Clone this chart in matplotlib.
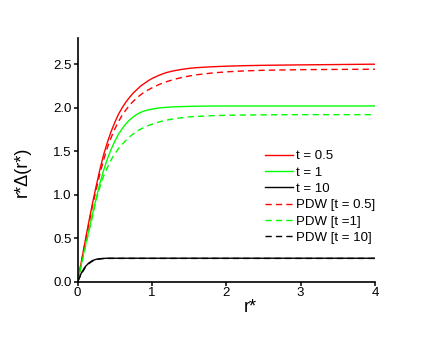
import matplotlib
matplotlib.use('Agg')
import matplotlib.pyplot as plt

plt.rcParams['font.family'] = ['Liberation Sans', 'DejaVu Sans']

# r* grid and curves
r = [0, 0.05, 0.1, 0.15, 0.2, 0.25, 0.3, 0.35, 0.4, 0.45, 0.5, 0.55, 0.6, 0.65, 0.7,
     0.75, 0.8, 0.85, 0.9, 0.95, 1.0, 1.1, 1.2, 1.3, 1.4, 1.5, 1.6, 1.8, 2.0, 2.25,
     2.5, 3.0, 3.5, 4.0]

t05 = [0, 0.23, 0.46, 0.685, 0.90, 1.10, 1.29, 1.46, 1.60, 1.725, 1.83, 1.925, 2.00,
       2.065, 2.12, 2.17, 2.21, 2.25, 2.28, 2.31, 2.335, 2.375, 2.405, 2.425, 2.44,
       2.452, 2.46, 2.47, 2.477, 2.483, 2.487, 2.492, 2.496, 2.50]
t1 = [0, 0.20, 0.40, 0.59, 0.78, 0.96, 1.13, 1.28, 1.41, 1.52, 1.615, 1.695, 1.76,
      1.815, 1.86, 1.895, 1.925, 1.947, 1.963, 1.975, 1.984, 1.997, 2.005, 2.01, 2.013,
      2.015, 2.017, 2.019, 2.02, 2.02, 2.02, 2.02, 2.02, 2.02]
t10 = [0, 0.10, 0.17, 0.215, 0.243, 0.258, 0.265, 0.268] + [0.27] * 26

pdw05 = [0, 0.22, 0.44, 0.66, 0.87, 1.06, 1.24, 1.40, 1.54, 1.655, 1.755, 1.84, 1.915,
         1.975, 2.03, 2.075, 2.115, 2.15, 2.18, 2.205, 2.228, 2.268, 2.30, 2.326, 2.347,
         2.364, 2.378, 2.398, 2.412, 2.423, 2.43, 2.437, 2.44, 2.442]
pdw1 = [0, 0.19, 0.38, 0.57, 0.75, 0.94, 1.09, 1.215, 1.31, 1.40, 1.47, 1.53, 1.58,
        1.625, 1.665, 1.70, 1.73, 1.755, 1.777, 1.795, 1.81, 1.837, 1.858, 1.873, 1.885,
        1.894, 1.90, 1.908, 1.913, 1.916, 1.918, 1.92, 1.92, 1.92]
pdw10 = [0, 0.09, 0.16, 0.208, 0.238, 0.254, 0.262, 0.266, 0.268] + [0.268] * 25

red = '#ff0000'
green = '#00ff00'
dash = (0, (4.5, 3))

fig = plt.figure(figsize=(4.36, 3.37), dpi=100)
ax = fig.add_axes([0.178, 0.164, 0.682, 0.723])

ax.plot(r, t05, color=red, lw=1, label='t = 0.5')
ax.plot(r, t1, color=green, lw=1, label='t = 1')
ax.plot(r, t10, color='black', lw=1, label='t = 10')
ax.plot(r, pdw05, color=red, lw=1, ls=dash, label='PDW [t = 0.5]')
ax.plot(r, pdw1, color=green, lw=1, ls=dash, label='PDW [t =1]')
ax.plot(r, pdw10, color='black', lw=1, ls=dash, label='PDW [t = 10]')

ax.set_xlim(0, 4)
ax.set_ylim(0, 2.8)
ax.set_xticks([0, 1, 2, 3, 4])
ax.set_yticks([0, 0.5, 1.0, 1.5, 2.0, 2.5])
ax.set_yticklabels(['0.0', '0.5', '1.0', '1.5', '2.0', '2.5'])

for s in ['top', 'right']:
    ax.spines[s].set_visible(False)
for s in ['left', 'bottom']:
    ax.spines[s].set_linewidth(1.2)
ax.tick_params(direction='out', length=2.6, width=1.1, labelsize=9.5, pad=1.5)

ax.set_xlabel('r*', fontsize=13)
ax.set_ylabel('r*Δ(r*)', fontsize=13)
ax.xaxis.set_label_coords(0.58, -0.07)
ax.yaxis.set_label_coords(-0.158, 0.45)

ax.legend(loc='upper left', bbox_to_anchor=(0.631, 0.54), frameon=False,
          fontsize=9.5, borderpad=0, borderaxespad=0, handlelength=2.1,
          handletextpad=0.2, labelspacing=0.31)

fig.savefig('out.png', dpi=100)
